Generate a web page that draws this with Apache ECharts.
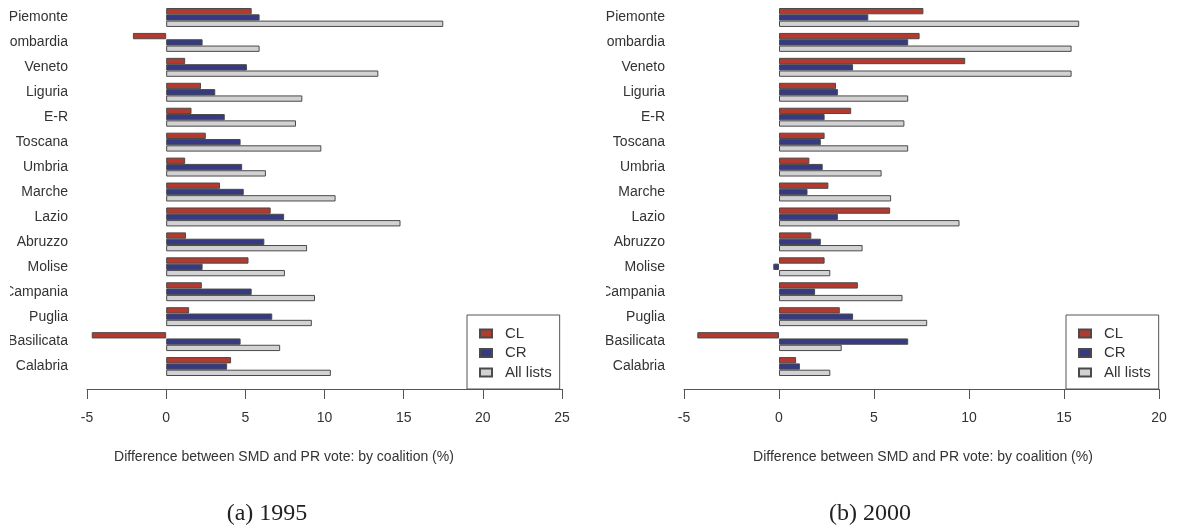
<!DOCTYPE html>
<html>
<head>
<meta charset="utf-8">
<script src="https://cdn.jsdelivr.net/npm/echarts@6/dist/echarts.min.js"></script>
<style>
  html, body { margin: 0; padding: 0; background: #ffffff; }
  body { width: 1177px; height: 531px; position: relative; overflow: hidden; }
  .panel { position: absolute; top: 0; height: 531px; }
  #p1995 { left: 10px; width: 590px; }
  #p2000 { left: 606px; width: 571px; }
</style>
</head>
<body>
<div id="p1995" class="panel"></div>
<div id="p2000" class="panel"></div>
<script>
// Regions, top to bottom
const regions = ['Piemonte', 'Lombardia', 'Veneto', 'Liguria', 'E-R', 'Toscana', 'Umbria',
  'Marche', 'Lazio', 'Abruzzo', 'Molise', 'Campania', 'Puglia', 'Basilicata', 'Calabria'];

// 1995: SMD minus PR vote (%)
const cl1995  = [5.4, -2.1, 1.2, 2.2, 1.6, 2.5, 1.2, 3.4, 6.6, 1.25, 5.2, 2.25, 1.45, -4.7, 4.1];
const cr1995  = [5.9, 2.3, 5.1, 3.1, 3.7, 4.7, 4.8, 4.9, 7.45, 6.2, 2.3, 5.4, 6.7, 4.7, 3.85];
const all1995 = [17.5, 5.9, 13.4, 8.6, 8.2, 9.8, 6.3, 10.7, 14.8, 8.9, 7.5, 9.4, 9.2, 7.2, 10.4];

// 2000: SMD minus PR vote (%)
const cl2000  = [7.6, 7.4, 9.8, 3.0, 3.8, 2.4, 1.6, 2.6, 5.85, 1.7, 2.4, 4.15, 3.2, -4.3, 0.9];
const cr2000  = [4.7, 6.8, 3.9, 3.1, 2.4, 2.2, 2.3, 1.5, 3.1, 2.2, -0.3, 1.9, 3.9, 6.8, 1.1];
const all2000 = [15.8, 15.4, 15.4, 6.8, 6.6, 6.8, 5.4, 5.9, 9.5, 4.4, 2.7, 6.5, 7.8, 3.3, 2.7];

const seriesNames = ['CL', 'CR', 'All lists'];
const seriesColors = ['#b43a2f', '#353a82', '#d2d2d4'];

const SANS = '"Liberation Sans", Arial, sans-serif';
const SERIF = '"Liberation Serif", "DejaVu Serif", serif';
const axisTitle = 'Difference between SMD and PR vote: by coalition (%)';

function buildPanel(el, cfg) {
  const chart = echarts.init(el, null, { renderer: 'canvas' });
  const values = [cfg.cl, cfg.cr, cfg.all];
  chart.setOption({
    animation: false,
    backgroundColor: '#ffffff',
    grid: {
      left: cfg.gridLeft, width: 475, top: 5, height: 374,
      containLabel: false, outerBoundsMode: 'none'
    },
    legend: {
      orient: 'vertical',
      left: cfg.legendLeft,
      top: 315,
      data: seriesNames,
      icon: 'rect',
      itemWidth: 12,
      itemHeight: 8,
      itemGap: 4.5,
      padding: [11, 8, 9, 12],
      borderColor: '#555555',
      borderWidth: 1,
      borderRadius: 0,
      textStyle: { fontFamily: SANS, fontSize: 15, color: '#333333', lineHeight: 15, padding: [0, 0, 0, 8] },
      selectedMode: false
    },
    xAxis: {
      type: 'value',
      min: -5,
      max: cfg.xMax,
      interval: 5,
      offset: 10,
      splitLine: { show: false },
      axisLine: { show: true, onZero: false, lineStyle: { color: '#555555', width: 1 } },
      axisTick: { show: true, length: 10, lineStyle: { color: '#555555', width: 1 } },
      axisLabel: { margin: 22, fontFamily: SANS, fontSize: 14, color: '#333333' }
    },
    yAxis: {
      type: 'category',
      data: regions,
      inverse: true,
      axisLine: { show: false },
      axisTick: { show: false },
      splitLine: { show: false },
      axisLabel: { margin: 19, fontFamily: SANS, fontSize: 14, color: '#333333' }
    },
    series: seriesNames.map((name, i) => ({
      name: name,
      type: 'bar',
      data: values[i],
      barGap: '0%',
      barCategoryGap: '24%',
      itemStyle: { color: seriesColors[i], borderColor: '#4a4a4a', borderWidth: 1 }
    })),
    graphic: [
      {
        type: 'text',
        x: cfg.titleX, y: 457,
        style: { text: axisTitle, font: '14px ' + SANS, fill: '#333333', align: 'center', verticalAlign: 'middle' }
      },
      {
        type: 'text',
        x: cfg.captionX, y: 514,
        style: { text: cfg.caption, font: '24px ' + SERIF, fill: '#222222', align: 'center', verticalAlign: 'middle' }
      }
    ]
  });
  return chart;
}

buildPanel(document.getElementById('p1995'), {
  cl: cl1995, cr: cr1995, all: all1995,
  gridLeft: 77, xMax: 25, legendLeft: 457,
  titleX: 274, captionX: 257, caption: '(a) 1995'
});

buildPanel(document.getElementById('p2000'), {
  cl: cl2000, cr: cr2000, all: all2000,
  gridLeft: 78, xMax: 20, legendLeft: 460,
  titleX: 317, captionX: 264, caption: '(b) 2000'
});
</script>
</body>
</html>
